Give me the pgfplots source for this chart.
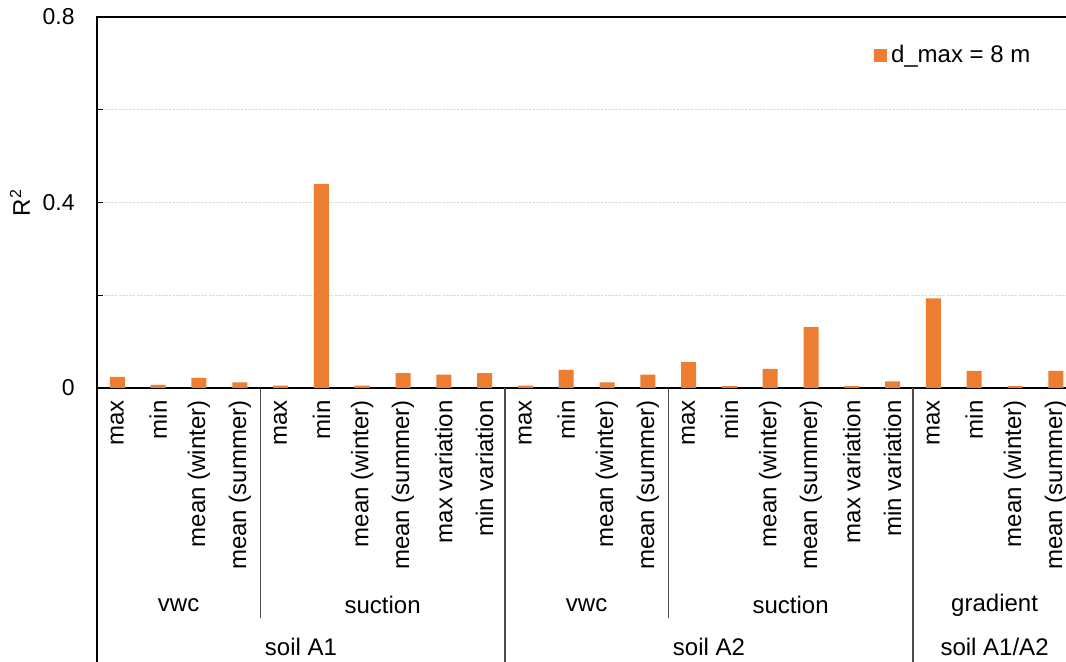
\documentclass[border=0pt]{standalone}
\usepackage{pgfplots}
\pgfplotsset{compat=1.18}
\usepackage{fontspec}
\setmainfont{Liberation Sans}
\definecolor{barorange}{HTML}{ED7D31}
\begin{document}
\fontsize{12}{14}\selectfont
\begin{tikzpicture}
\begin{axis}[
  at={(0,0)}, anchor=south west,
  scale only axis, width=489.6pt, height=185.5pt,
  xmin=-0.5, xmax=23.5, ymin=0, ymax=0.8,
  clip=false,
  axis line style={black, line width=0.8pt},
  ybar, bar width=7.5pt,
  ytick={0,0.2,0.4,0.6,0.8},
  yticklabels={0,,0.4,,0.8},
  yticklabel style={font=\fontsize{11.5}{13}\selectfont, xshift=-7pt},
  ymajorgrids,
  grid style={gray!30, dash pattern=on 1.2pt off 0.6pt, line width=0.6pt},
  tick align=inside, major tick length=3pt,
  ytick style={black, line width=0.6pt},
  xtick={0,...,23},
  xtick style={draw=none},
  xticklabels={max,min,mean (winter),mean (summer),max,min,mean (winter),mean (summer),max variation,min variation,max,min,mean (winter),mean (summer),max,min,mean (winter),mean (summer),max variation,min variation,max,min,mean (winter),mean (summer)},
  xticklabel style={rotate=90, anchor=east, xshift=-2pt, font=\fontsize{12}{14}\selectfont},
  every axis y label/.style={at={(axis description cs:0,0.5)}, xshift=-38.5pt, rotate=90, anchor=center},
  ylabel={R\textsuperscript{2}},
  legend style={draw=none, fill=none, at={(0.787,0.897)}, anchor=west, font=\fontsize{12}{14}\selectfont},
  legend image code/.code={\fill[barorange] (0pt,-3.3pt) rectangle (6.5pt,3.3pt);},
]
\addplot[fill=barorange, draw=none] coordinates {
(0,0.024) (1,0.007) (2,0.022) (3,0.012)
(4,0.005) (5,0.440) (6,0.005) (7,0.032) (8,0.029) (9,0.032)
(10,0.005) (11,0.039) (12,0.012) (13,0.029)
(14,0.056) (15,0.004) (16,0.041) (17,0.131) (18,0.004) (19,0.0145)
(20,0.193) (21,0.037) (22,0.004) (23,0.037)
};
\addlegendentry{d\_max = 8 m}
% separators
\draw[gray!60!black, line width=0.6pt] (axis cs:3.5,0) -- ([yshift=-115pt]axis cs:3.5,0);
\draw[gray!60!black, line width=0.6pt] (axis cs:13.5,0) -- ([yshift=-115pt]axis cs:13.5,0);
\draw[black, line width=0.8pt] (axis cs:-0.5,0) -- ([yshift=-140pt]axis cs:-0.5,0);
\draw[gray!60!black, line width=0.6pt] (axis cs:9.5,0) -- ([yshift=-140pt]axis cs:9.5,0);
\draw[gray!60!black, line width=0.6pt] (axis cs:19.5,0) -- ([yshift=-140pt]axis cs:19.5,0);
% group labels
\node at (axis cs:1.5,0) [yshift=-108.5pt] {vwc};
\node at (axis cs:6.5,0) [yshift=-108.5pt] {suction};
\node at (axis cs:11.5,0) [yshift=-108.5pt] {vwc};
\node at (axis cs:16.5,0) [yshift=-108.5pt] {suction};
\node at (axis cs:21.5,0) [yshift=-108.5pt] {gradient};
\node at (axis cs:4.5,0) [yshift=-129.5pt] {soil A1};
\node at (axis cs:14.5,0) [yshift=-129.5pt] {soil A2};
\node at (axis cs:21.5,0) [yshift=-129.5pt] {soil A1/A2};
\end{axis}
\pgfresetboundingbox
\path[use as bounding box] (-48.5pt,-137pt) rectangle (484.5pt,194pt);
\end{tikzpicture}
\end{document}
